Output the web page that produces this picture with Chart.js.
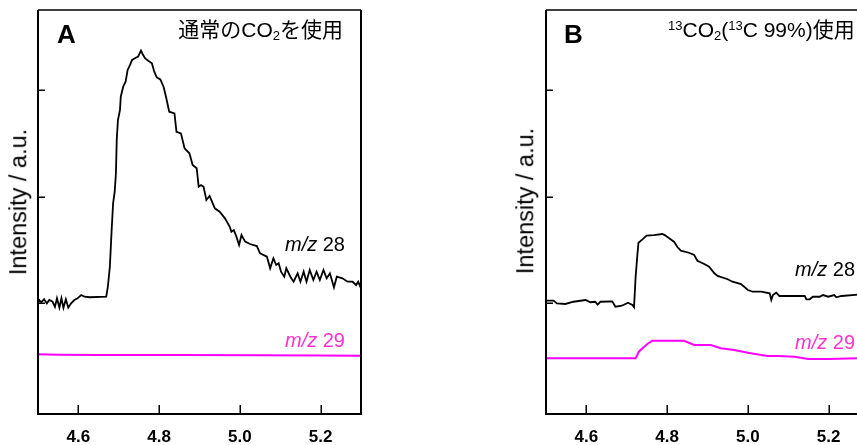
<!DOCTYPE html>
<html>
<head>
<meta charset="utf-8">
<title>m/z 28 / m/z 29</title>
<script src="https://cdn.jsdelivr.net/npm/chart.js"></script>
<style>
  html, body { margin: 0; padding: 0; background: #fff; }
  #stage { position: relative; width: 857px; height: 445px; overflow: hidden;
           font-family: "Liberation Sans", Arial, "Noto Sans CJK JP", sans-serif; color: #000; }
  canvas { position: absolute; top: 0; }
  #chartA { left: 0; }
  #chartB { left: 508px; }
  .lbl { position: absolute; line-height: 1; white-space: nowrap; }
  .panel { font-weight: bold; font-size: 26px; }
  .head { font-size: 21px; }
  .head .sub { font-size: 13px; position: relative; top: 3px; }
  .head .sup { font-size: 13px; position: relative; top: -7px; }
  .mz { font-size: 20px; }
  .mz i { font-style: italic; }
  .pink { color: #ff33cc; }
  .ylab { font-size: 23.5px; transform: translate(-50%, -50%) rotate(-90deg); }
</style>
</head>
<body>
<div id="stage">
  <canvas id="chartA" width="380" height="445"></canvas>
  <canvas id="chartB" width="380" height="445"></canvas>

  <!-- panel A labels -->
  <div class="lbl ylab" style="left:19px; top:202px;">Intensity / a.u.</div>
  <div class="lbl panel" style="left:57px; top:21px;">A</div>
  <div class="lbl head" style="right:514px; top:19px;">通常のCO<span class="sub">2</span>を使用</div>
  <div class="lbl mz" style="right:512px; top:234px;"><i>m/z</i> 28</div>
  <div class="lbl mz pink" style="right:512px; top:330px;"><i>m/z</i> 29</div>

  <!-- panel B labels -->
  <div class="lbl ylab" style="left:526px; top:201px;">Intensity / a.u.</div>
  <div class="lbl panel" style="left:564px; top:21px;">B</div>
  <div class="lbl head" style="left:668px; top:19px;"><span class="sup">13</span>CO<span class="sub">2</span>(<span class="sup">13</span>C 99%)使用</div>
  <div class="lbl mz" style="left:795px; top:259px;"><i>m/z</i> 28</div>
  <div class="lbl mz pink" style="left:795px; top:332px;"><i>m/z</i> 29</div>
</div>

<script>
// axis ticks
const xTickValues = [4.6, 4.8, 5.0, 5.2];
const yTickValues = [1, 2, 3];

// panel A, normal CO2
const timeA28 = [4.500,4.503,4.508,4.515,4.522,4.528,4.536,4.542,4.547,4.553,
  4.558,4.563,4.569,4.575,4.582,4.590,4.598,4.607,4.615,4.628,
  4.669,4.673,4.678,4.682,4.686,4.690,4.693,4.695,4.698,4.703,
  4.705,4.711,4.717,4.722,4.728,4.733,4.740,4.748,4.755,4.759,
  4.765,4.773,4.782,4.788,4.794,4.803,4.811,4.817,4.825,4.838,
  4.843,4.854,4.863,4.875,4.883,4.893,4.898,4.904,4.910,4.917,
  4.925,4.938,4.950,4.963,4.975,4.979,4.985,4.990,4.998,5.004,
  5.013,5.025,5.042,5.050,5.067,5.075,5.083,5.090,5.096,5.102,
  5.110,5.115,5.125,5.133,5.143,5.150,5.158,5.165,5.173,5.182,
  5.190,5.198,5.207,5.215,5.223,5.233,5.240,5.254,5.267,5.279,
  5.288,5.293,5.300];
const intA28 = [0.997,1.028,1.007,1.035,0.997,1.028,1.012,0.965,1.044,0.956,
  1.044,0.956,1.035,0.956,0.997,1.028,1.044,1.075,1.059,1.054,
  1.059,1.153,1.341,1.654,1.936,2.045,2.218,2.531,2.718,2.812,
  2.937,3.031,3.078,3.188,3.235,3.282,3.298,3.313,3.369,3.338,
  3.298,3.275,3.251,3.172,3.119,3.100,3.031,2.937,2.796,2.781,
  2.608,2.593,2.453,2.406,2.296,2.265,2.092,2.108,2.092,1.967,
  2.005,1.889,1.857,1.795,1.716,1.669,1.685,1.638,1.545,1.638,
  1.576,1.554,1.535,1.467,1.435,1.326,1.420,1.357,1.373,1.294,
  1.247,1.326,1.247,1.200,1.279,1.200,1.294,1.200,1.310,1.216,
  1.294,1.216,1.310,1.232,1.279,1.147,1.247,1.232,1.200,1.200,
  1.169,1.200,1.138];
const timeA29 = [4.500,4.550,4.650,4.850,5.050,5.200,5.300];
const intA29 = [0.518,0.515,0.512,0.512,0.510,0.507,0.506];

// panel B, 13CO2
const timeB28 = [4.500,4.519,4.527,4.548,4.568,4.598,4.610,4.622,4.628,4.635,
  4.664,4.672,4.685,4.693,4.703,4.714,4.718,4.722,4.726,4.729,
  4.739,4.749,4.767,4.788,4.794,4.805,4.817,4.826,4.834,4.854,
  4.867,4.875,4.892,4.904,4.917,4.925,4.950,4.962,4.983,5.000,
  5.012,5.033,5.054,5.058,5.062,5.070,5.078,5.116,5.141,5.145,
  5.153,5.161,5.178,5.186,5.199,5.214,5.219,5.232,5.273,5.300];
const intB28 = [1.022,1.022,0.997,0.991,1.012,1.028,1.007,1.012,0.984,1.012,
  1.016,0.965,0.972,0.984,1.003,0.981,0.960,1.247,1.435,1.566,
  1.598,1.632,1.638,1.648,1.638,1.608,1.576,1.523,1.491,1.472,
  1.451,1.397,1.366,1.341,1.279,1.254,1.223,1.200,1.178,1.122,
  1.106,1.106,1.091,1.028,1.075,1.097,1.066,1.066,1.066,1.035,
  1.035,1.059,1.059,1.075,1.059,1.075,1.054,1.066,1.078,1.080];
const timeB29 = [4.500,4.722,4.730,4.739,4.751,4.763,4.842,4.867,4.908,4.933,
  4.966,5.000,5.033,5.049,5.074,5.116,5.149,5.199,5.273,5.300];
const intB29 = [0.481,0.481,0.543,0.575,0.615,0.646,0.646,0.606,0.606,0.575,
  0.559,0.533,0.512,0.502,0.502,0.496,0.474,0.474,0.481,0.482];

function toPoints(xs, ys) {
  return xs.map((x, i) => ({ x: x, y: ys[i] }));
}

// box around the plot and inward tick marks
const framePlugin = {
  id: 'frame',
  afterDraw(chart) {
    const ctx = chart.ctx;
    const a = chart.chartArea;
    const sx = chart.scales.x, sy = chart.scales.y;
    ctx.save();
    ctx.strokeStyle = '#000';
    ctx.lineWidth = 2;
    ctx.beginPath();
    ctx.moveTo(a.left, a.top);
    ctx.lineTo(a.left, a.bottom);
    ctx.lineTo(a.right, a.bottom);
    ctx.lineTo(a.right, a.top);
    ctx.stroke();
    ctx.lineWidth = 1.5;
    ctx.beginPath();
    ctx.moveTo(a.left, a.top);
    ctx.lineTo(a.right, a.top);
    xTickValues.forEach(v => {
      const px = Math.round(sx.getPixelForValue(v)) + 0.25;
      ctx.moveTo(px, a.bottom);
      ctx.lineTo(px, a.bottom - 9);
    });
    yTickValues.forEach(v => {
      const py = Math.round(sy.getPixelForValue(v)) + 0.25;
      ctx.moveTo(a.left, py);
      ctx.lineTo(a.left + 7, py);
    });
    ctx.stroke();
    ctx.restore();
  }
};

function makeChart(id, t28, i28, t29, i29) {
  return new Chart(document.getElementById(id), {
    type: 'line',
    data: {
      datasets: [
        { label: 'm/z 28', data: toPoints(t28, i28), borderColor: '#000', borderWidth: 1.8 },
        { label: 'm/z 29', data: toPoints(t29, i29), borderColor: '#ff00ff', borderWidth: 2 }
      ]
    },
    options: {
      responsive: false,
      animation: false,
      events: [],
      layout: { padding: { top: 10, right: 19, left: 0, bottom: 0 } },
      elements: { point: { radius: 0 }, line: { tension: 0 } },
      plugins: { legend: { display: false }, tooltip: { enabled: false } },
      scales: {
        x: {
          type: 'linear',
          min: 4.5,
          max: 5.3,
          grid: { display: false, drawTicks: false },
          border: { display: false },
          afterBuildTicks: s => { s.ticks = xTickValues.map(v => ({ value: v })); },
          afterFit: s => { s.height = 31; },
          ticks: {
            padding: 13,
            color: '#000',
            font: { family: 'Liberation Sans', size: 17, weight: 'bold' },
            callback: v => Number(v).toFixed(1)
          }
        },
        y: {
          type: 'linear',
          min: -0.042,
          max: 3.751,
          grid: { display: false, drawTicks: false },
          border: { display: false },
          afterBuildTicks: s => { s.ticks = yTickValues.map(v => ({ value: v })); },
          afterFit: s => { s.width = 38; },
          ticks: { display: false }
        }
      }
    },
    plugins: [framePlugin]
  });
}

makeChart('chartA', timeA28, intA28, timeA29, intA29);
makeChart('chartB', timeB28, intB28, timeB29, intB29);
</script>
</body>
</html>
